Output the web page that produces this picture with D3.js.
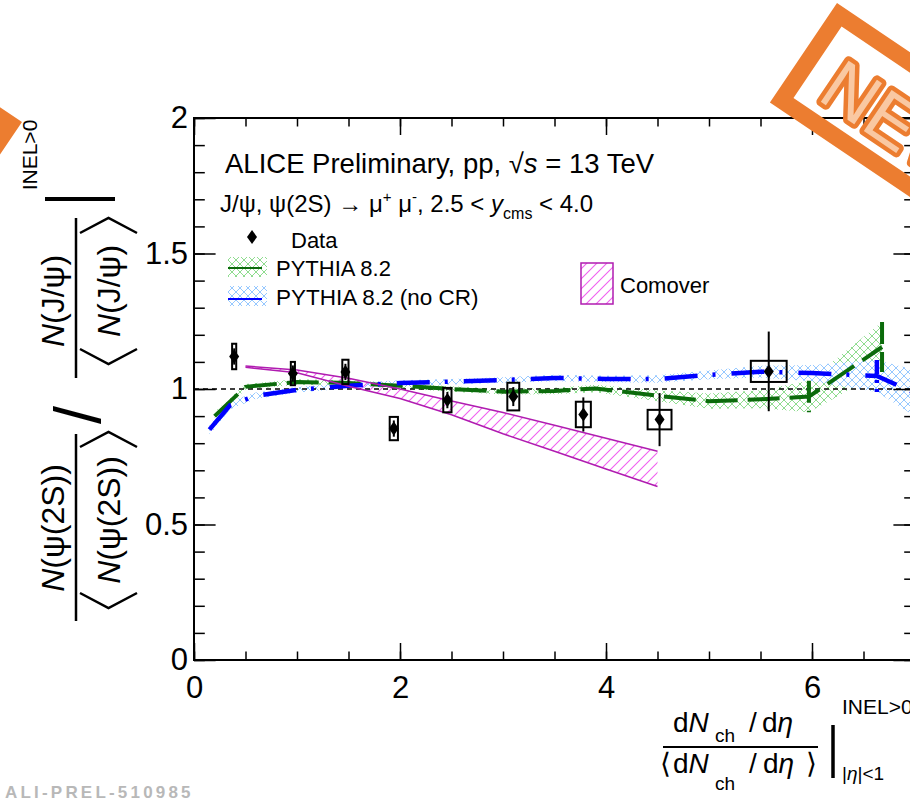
<!DOCTYPE html>
<html><head><meta charset="utf-8">
<script src="https://cdn.jsdelivr.net/npm/d3@7"></script>
<style>
body{margin:0;background:#fff}
svg{display:block}
text{font-family:"Liberation Sans",Arial,Helvetica,sans-serif;fill:#000}
</style>
</head><body>
<svg id="c" width="910" height="799"></svg>
<script>
// ---------------- data ----------------
const dataX    = [0.39, 0.96, 1.47, 1.94, 2.46, 3.10, 3.78, 4.52, 5.58];
const dataY    = [1.120, 1.057, 1.063, 0.854, 0.959, 0.972, 0.906, 0.887, 1.065];
const dataStat = [0.030, 0.030, 0.030, 0.030, 0.030, 0.035, 0.063, 0.098, 0.147];
const dataSys  = [0.047, 0.043, 0.045, 0.043, 0.045, 0.051, 0.047, 0.036, 0.039];
const dataXw   = [0.020, 0.020, 0.030, 0.040, 0.040, 0.058, 0.073, 0.116, 0.174];

const pyX   = [0.20, 0.50, 1.00, 1.50, 2.00, 2.50, 3.00, 3.50, 3.90, 4.50, 5.00, 5.50, 5.97, 6.68];
const pyY   = [0.900, 1.008, 1.026, 1.022, 1.012, 1.000, 0.990, 0.993, 1.002, 0.975, 0.955, 0.962, 0.972, 1.155];
const pyErr = [0.015, 0.010, 0.010, 0.010, 0.010, 0.010, 0.010, 0.012, 0.014, 0.020, 0.028, 0.033, 0.058, 0.092];

const ncrX   = [0.15, 0.35, 0.60, 1.00, 1.50, 2.00, 2.50, 3.00, 3.50, 4.00, 4.50, 5.00, 5.50, 6.00, 6.63, 7.00];
const ncrY   = [0.850, 0.940, 0.975, 0.997, 1.012, 1.022, 1.027, 1.033, 1.041, 1.037, 1.037, 1.052, 1.064, 1.059, 1.048, 0.985];
const ncrErr = [0.020, 0.015, 0.012, 0.010, 0.010, 0.010, 0.010, 0.010, 0.012, 0.012, 0.014, 0.016, 0.022, 0.030, 0.059, 0.085];

const comX     = [0.5, 1.0, 1.5, 2.0, 2.5, 3.0, 3.5, 4.0, 4.5];
const comUpper = [1.085, 1.070, 1.040, 1.000, 0.956, 0.913, 0.866, 0.818, 0.770];
const comLower = [1.080, 1.060, 1.010, 0.965, 0.905, 0.835, 0.770, 0.705, 0.640];

const xMajorTicks = [0, 2, 4, 6];
const xTickLabels = ["0", "2", "4", "6"];
const yMajorTicks = [0, 0.5, 1, 1.5, 2];
const yTickLabels = ["0", "0.5", "1", "1.5", "2"];

// ---------------- setup ----------------
const svg = d3.select("#c");
const X0 = 194, X1 = 915, Y0 = 660, Y1 = 118;
const x = d3.scaleLinear().domain([0, 7]).range([X0, X1]);
const y = d3.scaleLinear().domain([0, 2]).range([Y0, Y1]);

const defs = svg.append("defs");
defs.append("clipPath").attr("id","plotclip").append("rect")
  .attr("x",X0).attr("y",Y1).attr("width",X1-X0).attr("height",Y0-Y1);

function cross(id, color){
  const p = defs.append("pattern").attr("id",id).attr("patternUnits","userSpaceOnUse")
    .attr("width",8).attr("height",8);
  p.append("path").attr("d","M0,0 L8,8 M-2,6 L2,10 M6,-2 L10,2 M0,8 L8,0 M-2,2 L2,-2 M6,10 L10,6")
    .attr("stroke",color).attr("stroke-width",1).attr("fill","none");
}
cross("hGreen","#8fdc8f");
cross("hBlue","#96c8ff");
const ph = defs.append("pattern").attr("id","hMag").attr("patternUnits","userSpaceOnUse")
  .attr("width",10).attr("height",10);
ph.append("path").attr("d","M0,10 L10,0 M-3,3 L3,-3 M7,13 L13,7")
  .attr("stroke","#f060f0").attr("stroke-width",1.1).attr("fill","none");

const plot = svg.append("g").attr("clip-path","url(#plotclip)");

const pyPts  = pyX.map((v,i)=>({x:v, y:pyY[i], e:pyErr[i]}));
const ncrPts = ncrX.map((v,i)=>({x:v, y:ncrY[i], e:ncrErr[i]}));
const comPts = comX.map((v,i)=>({x:v, u:comUpper[i], l:comLower[i]}));

const band = d3.area().x(d=>x(d.x)).y0(d=>y(d.y-d.e)).y1(d=>y(d.y+d.e));
const lineG = d3.line().x(d=>x(d.x)).y(d=>y(d.y));

plot.append("path").datum(pyPts).attr("d",band).attr("fill","url(#hGreen)");
plot.append("path").datum(ncrPts).attr("d",band).attr("fill","url(#hBlue)");
plot.append("path").datum(comPts)
  .attr("d", d3.area().x(d=>x(d.x)).y0(d=>y(d.l)).y1(d=>y(d.u)))
  .attr("fill","url(#hMag)");

plot.append("line").attr("x1",x(0)).attr("x2",x(7)).attr("y1",y(1)).attr("y2",y(1))
  .attr("stroke","#000").attr("stroke-width",1.3).attr("stroke-dasharray","5,4");

const greenCol = "#0b6b0b", blueCol = "#0000ff";
plot.append("path").datum(pyPts).attr("d",lineG).attr("fill","none")
  .attr("stroke",greenCol).attr("stroke-width",4).attr("stroke-dasharray","32,10");
plot.selectAll(".gerr").data(pyPts.filter(d=>d.e>0.04)).enter().append("line")
  .attr("x1",d=>x(d.x)).attr("x2",d=>x(d.x)).attr("y1",d=>y(d.y+d.e)).attr("y2",d=>y(d.y-d.e))
  .attr("stroke",greenCol).attr("stroke-width",4).attr("stroke-dasharray","22,8");
plot.append("path").datum(ncrPts).attr("d",lineG).attr("fill","none")
  .attr("stroke",blueCol).attr("stroke-width",4.5).attr("stroke-dasharray","33,15,3,16");
plot.selectAll(".berr").data(ncrPts.filter(d=>d.e>0.04)).enter().append("line")
  .attr("x1",d=>x(d.x)).attr("x2",d=>x(d.x)).attr("y1",d=>y(d.y+d.e)).attr("y2",d=>y(d.y-d.e))
  .attr("stroke",blueCol).attr("stroke-width",4.5).attr("stroke-dasharray","14,6,3,6");

const magCol = "#b01cb0";
plot.append("path").datum(comPts).attr("d",d3.line().x(d=>x(d.x)).y(d=>y(d.u)))
  .attr("fill","none").attr("stroke",magCol).attr("stroke-width",1.5);
plot.append("path").datum(comPts).attr("d",d3.line().x(d=>x(d.x)).y(d=>y(d.l)))
  .attr("fill","none").attr("stroke",magCol).attr("stroke-width",1.5);

const dataPts = dataX.map((v,i)=>({x:v,y:dataY[i],s:dataStat[i],sy:dataSys[i],w:dataXw[i]}));
const dg = plot.append("g");
dg.selectAll(".stat").data(dataPts).enter().append("line")
  .attr("x1",d=>x(d.x)).attr("x2",d=>x(d.x)).attr("y1",d=>y(d.y+d.s)).attr("y2",d=>y(d.y-d.s))
  .attr("stroke","#000").attr("stroke-width",2);
dg.selectAll(".sys").data(dataPts).enter().append("rect")
  .attr("x",d=>x(d.x-d.w)).attr("width",d=>x(d.x+d.w)-x(d.x-d.w))
  .attr("y",d=>y(d.y+d.sy)).attr("height",d=>y(d.y-d.sy)-y(d.y+d.sy))
  .attr("fill","none").attr("stroke","#000").attr("stroke-width",2);
const diamond = "M0,-7 L5,0 L0,7 L-5,0 Z";
dg.selectAll(".mk").data(dataPts).enter().append("path")
  .attr("d",diamond).attr("transform",d=>`translate(${x(d.x)},${y(d.y)})`).attr("fill","#000");

// ---------------- axes ----------------
const ax = svg.append("g");
function styleAxis(g){
  g.select(".domain").remove();
  g.selectAll(".tick line").attr("stroke","#000").attr("stroke-width",1.5);
}
const yMinor = d3.range(0, 2.0001, 0.1);
const xMinor = d3.range(0, 7.0001, 0.5);

ax.append("g").attr("transform",`translate(${X0},0)`)
  .call(d3.axisLeft(y).tickValues(yMinor).tickSize(-10.8).tickFormat("")).call(styleAxis);
ax.append("g").attr("transform",`translate(${X0},0)`)
  .call(d3.axisLeft(y).tickValues(yMajorTicks).tickSize(-21.6).tickPadding(6)
    .tickFormat((d,i)=>yTickLabels[i])).call(styleAxis)
  .selectAll("text").attr("font-size",31).attr("font-family","Liberation Sans, Arial, sans-serif").attr("fill","#000");
ax.append("g").attr("transform",`translate(${X1},0)`)
  .call(d3.axisRight(y).tickValues(yMinor).tickSize(-10.8).tickFormat("")).call(styleAxis);
ax.append("g").attr("transform",`translate(${X1},0)`)
  .call(d3.axisRight(y).tickValues(yMajorTicks).tickSize(-21.6).tickFormat("")).call(styleAxis);

ax.append("g").attr("transform",`translate(0,${Y0})`)
  .call(d3.axisBottom(x).tickValues(xMinor).tickSize(-8.5).tickFormat("")).call(styleAxis);
ax.append("g").attr("transform",`translate(0,${Y0})`)
  .call(d3.axisBottom(x).tickValues(xMajorTicks).tickSize(-17).tickPadding(16)
    .tickFormat((d,i)=>xTickLabels[i])).call(styleAxis)
  .selectAll("text").attr("font-size",31).attr("font-family","Liberation Sans, Arial, sans-serif").attr("fill","#000");
ax.append("g").attr("transform",`translate(0,${Y1})`)
  .call(d3.axisTop(x).tickValues(xMinor).tickSize(-8.5).tickFormat("")).call(styleAxis);
ax.append("g").attr("transform",`translate(0,${Y1})`)
  .call(d3.axisTop(x).tickValues(xMajorTicks).tickSize(-17).tickFormat("")).call(styleAxis);

svg.append("rect").attr("x",X0).attr("y",Y1).attr("width",X1-X0).attr("height",Y0-Y1)
  .attr("fill","none").attr("stroke","#000").attr("stroke-width",2);

// ---------------- texts ----------------
const t1 = svg.append("text").attr("x",225).attr("y",173).attr("font-size",27.5);
t1.append("tspan").text("ALICE Preliminary, pp,  \u221A");
t1.append("tspan").attr("font-style","italic").text("s");
t1.append("tspan").text(" = 13 TeV");

const t2 = svg.append("text").attr("x",220).attr("y",212).attr("font-size",24);
t2.append("tspan").text("J/\u03C8, \u03C8(2S) \u2192 \u03BC");
t2.append("tspan").attr("font-size",15).attr("dy",-10).text("+");
t2.append("tspan").attr("dy",10).text(" \u03BC");
t2.append("tspan").attr("font-size",15).attr("dy",-10).text("-");
t2.append("tspan").attr("dy",10).text(", 2.5 < ");
t2.append("tspan").attr("font-style","italic").text("y");
t2.append("tspan").attr("font-size",16).attr("dy",7).text("cms");
t2.append("tspan").attr("dy",-7).text(" < 4.0");

// legend
svg.append("path").attr("d",diamond).attr("transform","translate(252,237)").attr("fill","#000");
svg.append("text").attr("x",291).attr("y",248).attr("font-size",22).text("Data");
svg.append("rect").attr("x",228).attr("y",257).attr("width",39).attr("height",20).attr("fill","url(#hGreen)");
svg.append("line").attr("x1",228).attr("x2",262).attr("y1",268).attr("y2",268).attr("stroke",greenCol).attr("stroke-width",2);
svg.append("text").attr("x",276).attr("y",276).attr("font-size",22).text("PYTHIA 8.2");
svg.append("rect").attr("x",228).attr("y",286).attr("width",39).attr("height",20).attr("fill","url(#hBlue)");
svg.append("line").attr("x1",228).attr("x2",262).attr("y1",299).attr("y2",299).attr("stroke",blueCol).attr("stroke-width",2);
svg.append("text").attr("x",276).attr("y",305).attr("font-size",22.5).text("PYTHIA 8.2 (no CR)");
svg.append("rect").attr("x",581).attr("y",263).attr("width",32).attr("height",41)
  .attr("fill","url(#hMag)").attr("stroke",magCol).attr("stroke-width",1.5);
svg.append("text").attr("x",620).attr("y",293).attr("font-size",22).text("Comover");

// y-axis title
const yt = svg.append("g");
function rtext(sx, sy, parts, fs){
  const t = yt.append("text").attr("transform",`translate(${sx},${sy}) rotate(-90)`)
    .attr("text-anchor","middle").attr("font-size",fs);
  parts.forEach(p=>{ const s=t.append("tspan").text(p[0]); if(p[1]) s.attr("font-style","italic"); });
  return t;
}
const stroke = (d,w)=>yt.append("path").attr("d",d).attr("fill","none").attr("stroke","#000").attr("stroke-width",w);
rtext(64, 528, [["N",1],["(\u03C8(2S))"]], 32);
rtext(120, 520, [["N",1],["(\u03C8(2S))"]], 32);
stroke("M76,434 V621", 2.5);
stroke("M80,593 L108.5,608 L137,593", 2.5);
stroke("M80,447 L108.5,432 L137,447", 2.5);
rtext(100, 415, [["/"]], 65);
rtext(64, 301, [["N",1],["(J/\u03C8)"]], 32);
rtext(120, 291, [["N",1],["(J/\u03C8)"]], 32);
stroke("M76,218 V378", 2.5);
stroke("M80,349 L108.5,364 L137,349", 2.5);
stroke("M80,233 L108.5,218 L137,233", 2.5);
stroke("M45,199 H115", 4);
rtext(37, 155, [["INEL>0"]], 21);

// x-axis title
const xn = svg.append("text").attr("y",732).attr("font-size",28);
xn.append("tspan").attr("x",673).text("d");
xn.append("tspan").attr("font-style","italic").text("N");
xn.append("tspan").attr("x",715).attr("font-size",19).attr("dy",10).text("ch");
xn.append("tspan").attr("x",749).attr("dy",-10).text("/");
xn.append("tspan").attr("x",762).text("d");
xn.append("tspan").attr("font-style","italic").text("\u03B7");
svg.append("line").attr("x1",663).attr("x2",818).attr("y1",747).attr("y2",747).attr("stroke","#000").attr("stroke-width",2);
const xd = svg.append("text").attr("y",773).attr("font-size",28);
xd.append("tspan").attr("x",660).text("\u27E8");
xd.append("tspan").attr("x",673).text("d");
xd.append("tspan").attr("font-style","italic").text("N");
xd.append("tspan").attr("x",715).attr("font-size",19).attr("dy",17).text("ch");
xd.append("tspan").attr("x",749).attr("dy",-17).text("/");
xd.append("tspan").attr("x",763).text("d");
xd.append("tspan").attr("font-style","italic").text("\u03B7");
xd.append("tspan").attr("x",806).text("\u27E9");
svg.append("line").attr("x1",833).attr("x2",833).attr("y1",725).attr("y2",778).attr("stroke","#000").attr("stroke-width",3.5);
svg.append("text").attr("x",842).attr("y",714).attr("font-size",21).text("INEL>0");
const xs = svg.append("text").attr("x",842).attr("y",780).attr("font-size",19);
xs.append("tspan").text("|");
xs.append("tspan").attr("font-style","italic").text("\u03B7");
xs.append("tspan").text("|<1");

// preliminary id
svg.append("text").attr("x",5).attr("y",798).attr("font-size",17).attr("font-weight","bold")
  .attr("font-family","Liberation Mono, DejaVu Sans Mono, monospace").attr("letter-spacing",3.2)
  .style("fill","#b8b8b8").text("ALI-PREL-510985");

// ---------------- NEW stamps ----------------
const orange = "#ec7d30";
const st = svg.append("g").attr("transform","translate(837,3) rotate(34)");
st.append("rect").attr("x",8.5).attr("y",8.5).attr("width",283).attr("height",103)
  .attr("fill","none").attr("stroke",orange).attr("stroke-width",17);
st.append("text").attr("x",36).attr("y",91).attr("font-size",72)
  .attr("font-family","DejaVu Sans, sans-serif")
  .style("fill","#f9c8a2").attr("stroke",orange).attr("stroke-width",9)
  .attr("stroke-linejoin","round").attr("paint-order","stroke").text("NEW");
const st2 = svg.append("g").attr("transform",`translate(${22-300*Math.cos(34*Math.PI/180)},${122-300*Math.sin(34*Math.PI/180)}) rotate(34)`);
st2.append("rect").attr("x",8).attr("y",8).attr("width",284).attr("height",104)
  .attr("fill","none").attr("stroke",orange).attr("stroke-width",16);
</script>
</body></html>
